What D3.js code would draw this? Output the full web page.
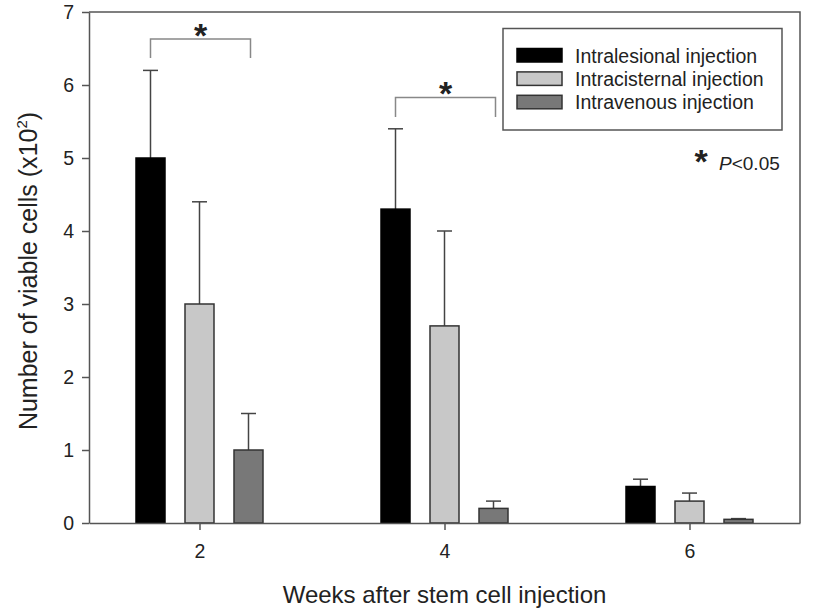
<!DOCTYPE html>
<html>
<head>
<meta charset="utf-8">
<script src="https://cdn.jsdelivr.net/npm/d3@7"></script>
<style>
	body { margin: 0; background: #fff; }
	svg { display: block; font-family: "Liberation Sans", Arial, sans-serif; }
	.axis path, .axis line { stroke: #555; stroke-width: 1.5; }
	.axis text { font-size: 19.5px; fill: #222; }
</style>
</head>
<body>
<svg id="chart" width="826" height="611"></svg>
<script>
// weeks after injection
var weeks = ['2', '4', '6'];
var seriesNames = ['Intralesional injection', 'Intracisternal injection', 'Intravenous injection'];
var seriesColors = ['#000000', '#c8c8c8', '#787878'];

// mean number of viable cells (x10^2) and upper error
var intralesional = [5.0, 4.3, 0.5];
var intralesionalErr = [1.2, 1.1, 0.1];
var intracisternal = [3.0, 2.7, 0.3];
var intracisternalErr = [1.4, 1.3, 0.11];
var intravenous = [1.0, 0.2, 0.05];
var intravenousErr = [0.5, 0.1, 0.01];

var yTicks = [0, 1, 2, 3, 4, 5, 6, 7];

// significance brackets (intralesional vs intravenous)
var sigWeeks = ['2', '4'];
var sigTop = [6.63, 5.83];
var sigLeg = [6.37, 5.56];

+function(){
	var svg = d3.select('#chart');
	var left = 89, right = 800, top = 12, bottom = 523;

	var x = d3.scalePoint().domain(weeks).range([left, right]).padding(0.451);
	var y = d3.scaleLinear().domain([0, 7]).range([bottom, top]);

	var values = [intralesional, intracisternal, intravenous];
	var errs = [intralesionalErr, intracisternalErr, intravenousErr];
	var barW = 29, gap = 49, capW = 15;

	var rows = [];
	values.forEach(function(vals, s){
		vals.forEach(function(v, i){
			rows.push({ s: s, week: weeks[i], v: v, e: errs[s][i] });
		});
	});
	var cx = function(d) { return x(d.week) + (d.s - 1) * gap; };

	// frame (top and right)
	svg.append('path')
		.attr('d', 'M' + left + ',' + top + 'H' + right + 'V' + bottom)
		.attr('fill', 'none').attr('stroke', '#555').attr('stroke-width', 1.5);

	// error bars (upper only)
	var eb = svg.append('g').attr('stroke', '#444').attr('stroke-width', 1.5);
	eb.selectAll('line.v').data(rows).enter().append('line')
		.attr('x1', cx).attr('x2', cx)
		.attr('y1', function(d) { return y(d.v); })
		.attr('y2', function(d) { return y(d.v + d.e); });
	eb.selectAll('line.c').data(rows).enter().append('line')
		.attr('x1', function(d) { return cx(d) - capW / 2; })
		.attr('x2', function(d) { return cx(d) + capW / 2; })
		.attr('y1', function(d) { return y(d.v + d.e); })
		.attr('y2', function(d) { return y(d.v + d.e); });

	// bars
	svg.append('g').selectAll('rect').data(rows).enter().append('rect')
		.attr('x', function(d) { return cx(d) - barW / 2; })
		.attr('y', function(d) { return y(d.v); })
		.attr('width', barW)
		.attr('height', function(d) { return y(0) - y(d.v); })
		.attr('fill', function(d) { return seriesColors[d.s]; })
		.attr('stroke', function(d) { return d.s === 0 ? '#000' : '#333'; })
		.attr('stroke-width', 1.5);

	// axes
	svg.append('g').attr('class', 'axis')
		.attr('transform', 'translate(0,' + bottom + ')')
		.call(d3.axisBottom(x).tickSize(7).tickSizeOuter(0).tickPadding(14));
	svg.append('g').attr('class', 'axis')
		.attr('transform', 'translate(' + left + ',0)')
		.call(d3.axisLeft(y).tickValues(yTicks).tickFormat(d3.format('d'))
			.tickSize(7).tickSizeOuter(0).tickPadding(8));

	// significance brackets
	sigWeeks.forEach(function(w, i){
		var x1 = x(w) - gap, x2 = x(w) + gap + 2;
		svg.append('path')
			.attr('d', 'M' + x1 + ',' + y(sigLeg[i]) + 'V' + y(sigTop[i]) + 'H' + x2 + 'V' + y(sigLeg[i]))
			.attr('fill', 'none').attr('stroke', '#888').attr('stroke-width', 1.5);
		svg.append('text')
			.attr('x', (x1 + x2) / 2).attr('y', y(sigTop[i]) + 8)
			.attr('text-anchor', 'middle')
			.attr('font-size', 34).attr('font-weight', 'bold').attr('fill', '#222')
			.text('*');
	});

	// legend
	var lg = svg.append('g');
	lg.append('rect')
		.attr('x', 503).attr('y', 28.5).attr('width', 279).attr('height', 101.5)
		.attr('fill', '#fff').attr('stroke', '#555').attr('stroke-width', 1.5);
	seriesNames.forEach(function(name, i){
		var by = 62.5 + i * 23.4;
		lg.append('rect')
			.attr('x', 517).attr('y', by - 14).attr('width', 45).attr('height', 13.5)
			.attr('fill', seriesColors[i])
			.attr('stroke', i === 0 ? '#000' : '#333').attr('stroke-width', 1.5);
		lg.append('text')
			.attr('x', 575).attr('y', by)
			.attr('font-size', 19.5).attr('fill', '#222')
			.text(name);
	});

	// p value note
	svg.append('text')
		.attr('x', 701).attr('y', 172.5).attr('text-anchor', 'middle')
		.attr('font-size', 34).attr('font-weight', 'bold').attr('fill', '#222').text('*');
	var pt = svg.append('text').attr('x', 719).attr('y', 169.5)
		.attr('font-size', 19).attr('fill', '#222');
	pt.append('tspan').attr('font-style', 'italic').text('P');
	pt.append('tspan').text('<0.05');

	// axis titles
	svg.append('text')
		.attr('x', (left + right) / 2).attr('y', 603)
		.attr('text-anchor', 'middle')
		.attr('font-size', 24).attr('fill', '#222')
		.text('Weeks after stem cell injection');

	var yt = svg.append('text')
		.attr('transform', 'translate(37,271) rotate(-90)')
		.attr('text-anchor', 'middle')
		.attr('font-size', 25).attr('fill', '#222');
	yt.append('tspan').text('Number of viable cells (x10');
	yt.append('tspan').attr('font-size', 15).attr('dy', -10).text('2');
	yt.append('tspan').attr('dy', 10).text(')');
}();
</script>
</body>
</html>
